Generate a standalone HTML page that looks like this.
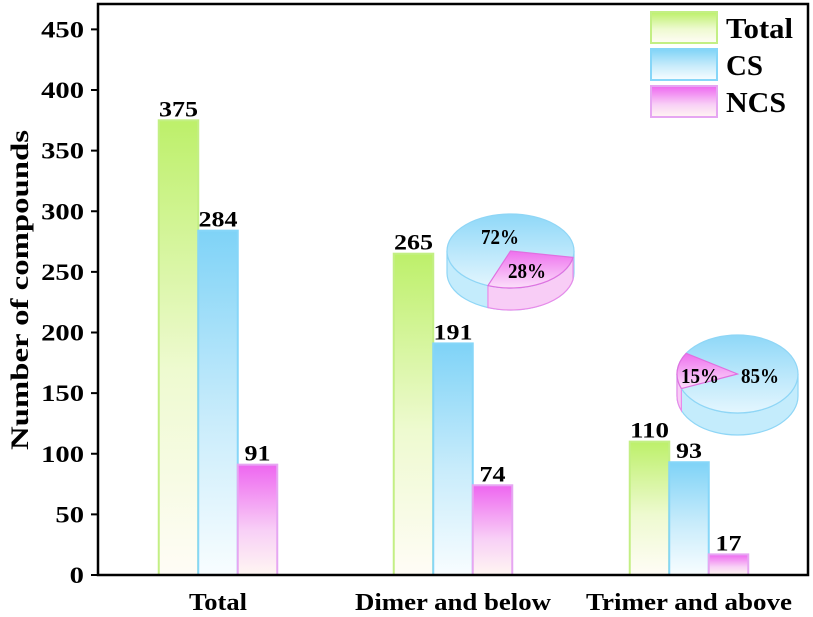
<!DOCTYPE html>
<html><head><meta charset="utf-8"><style>
html,body{margin:0;padding:0;background:#fff;}
svg{display:block;font-family:"Liberation Serif",serif;font-weight:bold;}
</style></head><body>
<svg id="chart" width="813" height="617" viewBox="0 0 813 617">
<defs>
<linearGradient id="gT" x1="0" y1="0" x2="0" y2="1"><stop offset="0" stop-color="#bdf06a"/><stop offset="0.55" stop-color="#eefad0"/><stop offset="1" stop-color="#fffcf6"/></linearGradient>
<linearGradient id="gC" x1="0" y1="0" x2="0" y2="1"><stop offset="0" stop-color="#7fd3f7"/><stop offset="0.55" stop-color="#c9ecfb"/><stop offset="1" stop-color="#f8fdff"/></linearGradient>
<linearGradient id="gN" x1="0" y1="0" x2="0" y2="1"><stop offset="0" stop-color="#ee66f0"/><stop offset="0.6" stop-color="#f8d0f6"/><stop offset="1" stop-color="#fff6f2"/></linearGradient>
<linearGradient id="pB" x1="0" y1="0" x2="0" y2="1"><stop offset="0" stop-color="#8fd8f8"/><stop offset="1" stop-color="#e4f6fe"/></linearGradient>
<linearGradient id="pP" x1="0" y1="0" x2="0" y2="1"><stop offset="0" stop-color="#ee70ee"/><stop offset="1" stop-color="#fbe0fa"/></linearGradient>
</defs>
<g id="bars"></g>
<g id="pies"></g>
<rect x="98" y="4" width="710" height="571" fill="none" stroke="#000" stroke-width="2.5"/>
<g id="yaxis"></g>
<text x="28" y="290" transform="rotate(-90 28 290)" text-anchor="middle" font-size="25" textLength="320" lengthAdjust="spacingAndGlyphs">Number of compounds</text>
<g id="legend"></g>
</svg>
<script>
const categories = ["Total", "Dimer and below", "Trimer and above"];
const seriesNames = ["Total", "CS", "NCS"];
const totalVals = [375, 265, 110];
const csVals = [284, 191, 93];
const ncsVals = [91, 74, 17];
const yTicks = [0, 50, 100, 150, 200, 250, 300, 350, 400, 450];
const pieNcsPct = [28, 15];
const pieCsPct = [72, 85];

const NS = "http://www.w3.org/2000/svg";
function mk(tag, attrs, parent) { const e = document.createElementNS(NS, tag); for (const k in attrs) e.setAttribute(k, attrs[k]); parent.appendChild(e); return e; }
const y = v => 575 - v * 1.2125;
const catCenter = [218, 453, 689];
const catWidth = [58, 196, 206];
const bw = 39.5;
const fills = ["url(#gT)", "url(#gC)", "url(#gN)"];
const strokes = ["#c3ef84", "#86d6f8", "#e6a6f2"];
const series = [totalVals, csVals, ncsVals];

const bars = document.getElementById('bars');
categories.forEach((c, i) => {
  series.forEach((s, j) => {
    const x = catCenter[i] + (j - 1.5) * bw;
    const r = mk('rect', { x: x, y: y(s[i]), width: bw, height: 575 - y(s[i]), fill: fills[j], stroke: strokes[j], 'stroke-width': 2 }, bars);
    
    
    const t = mk('text', { x: x + bw / 2, y: y(s[i]) - 4, 'text-anchor': 'middle', 'font-size': 22, textLength: String(s[i]).length * 13, lengthAdjust: 'spacingAndGlyphs' }, bars);
    t.textContent = s[i];
    
    
  });
  const cl = mk('text', { x: catCenter[i], y: 610, 'text-anchor': 'middle', 'font-size': 24, textLength: catWidth[i], lengthAdjust: 'spacingAndGlyphs' }, bars);
  cl.textContent = c;
  
  
});

const ya = document.getElementById('yaxis');
yTicks.forEach(v => {
  const l = mk('line', { x1: 91, x2: 98, y1: y(v), y2: y(v), stroke: '#000', 'stroke-width': 2 }, ya);
  
  
  const t = mk('text', { x: 84, y: y(v) + 8, 'text-anchor': 'end', 'font-size': 23, textLength: String(v).length * 14.3, lengthAdjust: 'spacingAndGlyphs' }, ya);
  t.textContent = v;
  
  
});

const pieGeo = [
  { cx: 510.5, cy: 251, rx: 63.5, ry: 37, d: 22, start: 10, lblC: [500, 244], lblN: [527, 278] },
  { cx: 737.5, cy: 374, rx: 60.5, ry: 39, d: 22, start: 158, lblC: [760, 383], lblN: [700, 383] }
];
const pies = document.getElementById('pies');
function pt(g, a, dy) { const r = a * Math.PI / 180; return [g.cx + g.rx * Math.cos(r), g.cy + g.ry * Math.sin(r) + (dy || 0)]; }
function sidePath(g, a, b) {
  a = Math.max(a, 0); b = Math.min(b, 180); if (b <= a) return null;
  const p1 = pt(g, a), p2 = pt(g, b), p3 = pt(g, b, g.d), p4 = pt(g, a, g.d);
  return `M${p1} A${g.rx} ${g.ry} 0 0 1 ${p2} L${p3} A${g.rx} ${g.ry} 0 0 0 ${p4} Z`;
}
pieGeo.forEach((g, i) => {
  const grp = mk('g', {}, pies);
  
  
  const span = pieNcsPct[i] * 3.6;
  const a = g.start, b = g.start + span;
  mk('path', { d: sidePath(g, 0, 180), fill: '#c4ecfc', stroke: '#8fd6f6', 'stroke-width': 1.2 }, grp);
  const sp = sidePath(g, a, b);
  if (sp) mk('path', { d: sp, fill: '#f8cdf6', stroke: '#e98ae9', 'stroke-width': 1.2 }, grp);
  const e = mk('ellipse', { cx: g.cx, cy: g.cy, rx: g.rx, ry: g.ry, fill: 'url(#pB)', stroke: '#8fd6f6', 'stroke-width': 1.2 }, grp);
  
  
  const p1 = pt(g, a), p2 = pt(g, b);
  const s = mk('path', { d: `M${g.cx},${g.cy} L${p1} A${g.rx} ${g.ry} 0 ${span > 180 ? 1 : 0} 1 ${p2} Z`, fill: 'url(#pP)', stroke: '#e070e0', 'stroke-width': 1.2 }, grp);
  
  
  const t1 = mk('text', { x: g.lblC[0], y: g.lblC[1], 'text-anchor': 'middle', 'font-size': 21, textLength: 38, lengthAdjust: 'spacingAndGlyphs' }, grp);
  t1.textContent = pieCsPct[i] + '%';
  
  
  const t2 = mk('text', { x: g.lblN[0], y: g.lblN[1], 'text-anchor': 'middle', 'font-size': 21, textLength: 38, lengthAdjust: 'spacingAndGlyphs' }, grp);
  t2.textContent = pieNcsPct[i] + '%';
  
  
});

const legendWidths = [67, 37, 60];
const lg = document.getElementById('legend');


seriesNames.forEach((n, j) => {
  const yy = 12 + j * 37;
  const r = mk('rect', { x: 651, y: yy, width: 66, height: 31, fill: fills[j], stroke: strokes[j], 'stroke-width': 2 }, lg);
  
  
  const t = mk('text', { x: 726, y: yy + 26, 'font-size': 28, textLength: legendWidths[j], lengthAdjust: 'spacingAndGlyphs' }, lg);
  t.textContent = n;
  
  
});
</script>
</body></html>
